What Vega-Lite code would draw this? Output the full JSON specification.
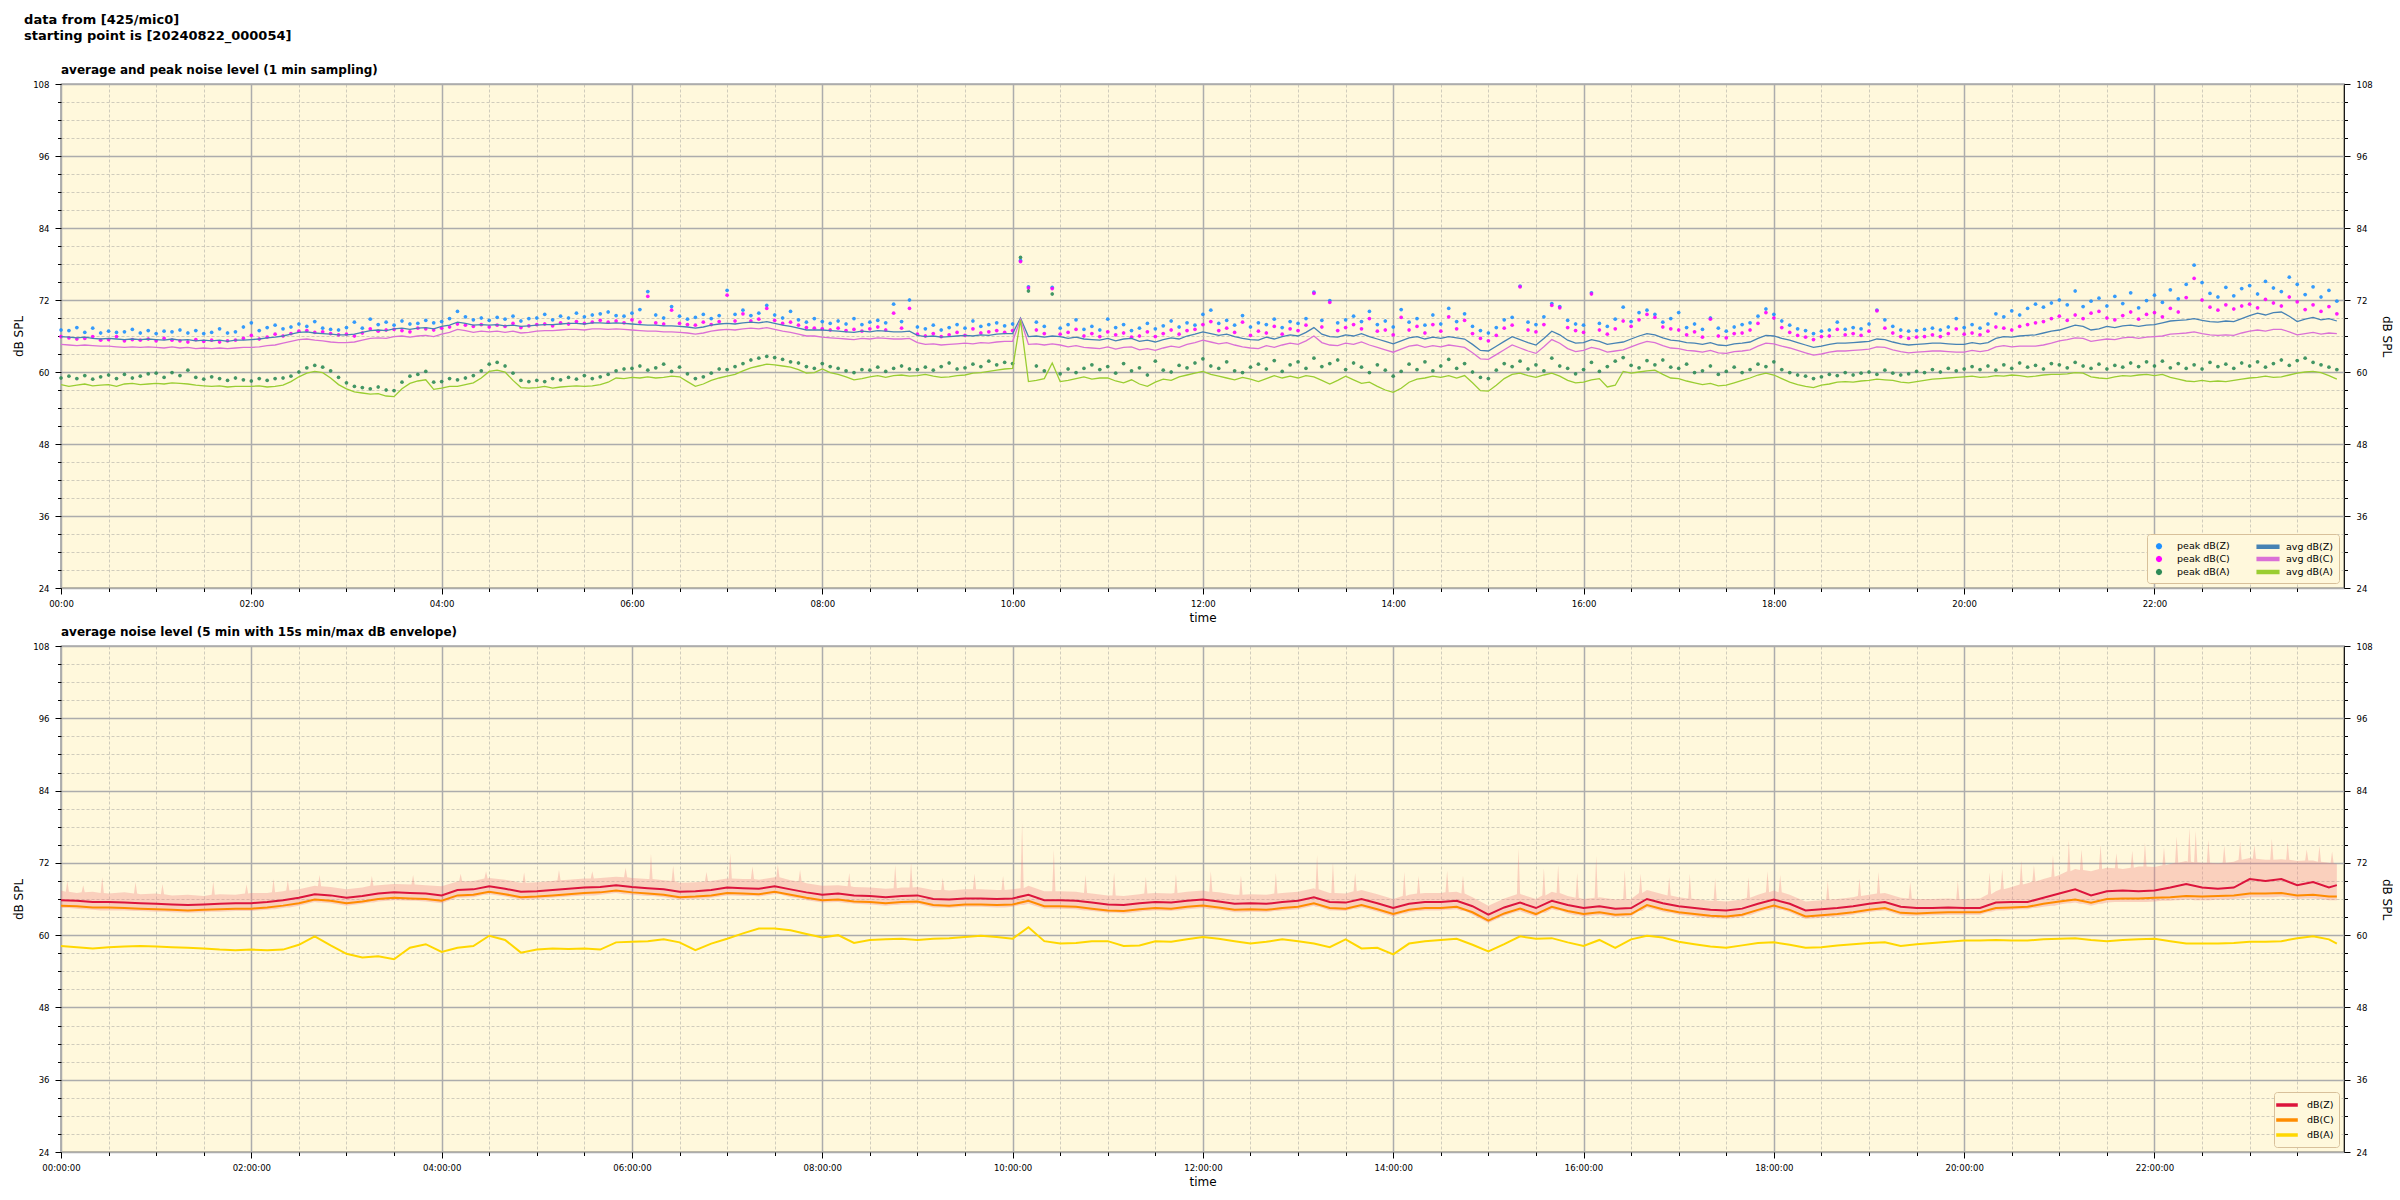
{
"$schema": "https://vega.github.io/schema/vega-lite/v6.json",
"padding": {"left": 12, "top": 14, "right": 0, "bottom": 0},
"background": "white",
"title": {"text": ["data from [425/mic0]", "starting point is [20240822_000054]"], "anchor": "start", "frame": "bounds", "dx": 12, "fontSize": 13, "fontWeight": "bold", "font": "DejaVu Sans", "lineHeight": 16, "offset": 20, "color": "black"},
"config": {
  "view": {"fill": "#fff8dc", "stroke": "#000000", "strokeWidth": 1.2},
  "axis": {"domain": false, "labelFont": "DejaVu Sans Condensed", "labelFontSize": 9.5, "labelColor": "#000000", "titleFont": "DejaVu Sans", "titleFontSize": 12, "titleFontWeight": "normal", "titleColor": "#000000", "tickColor": "#000000", "tickWidth": 1, "labelOverlap": false, "labelFlush": false},
  "title": {"font": "DejaVu Sans", "fontSize": 12, "fontWeight": "bold", "color": "#000000", "anchor": "start", "frame": "group", "offset": 2},
  "legend": {"labelFont": "DejaVu Sans", "labelFontSize": 9.5, "labelColor": "#000000", "fillColor": "#fff8dc", "strokeColor": "#d8c09a", "cornerRadius": 3, "padding": 5, "rowPadding": 0, "orient": "bottom-right", "offset": 5}
},
"resolve": {"scale": {"color": "independent", "shape": "independent"}},
"spacing": 0,
"vconcat": [
{
  "title": {"text": "average and peak noise level (1 min sampling)"},
  "width": 2283, "height": 504,
  "data": {"values": [
{"t":0,"z":65.9,"c":64.6,"a":57.9,"pz":67.0,"pc":65.9,"pa":59.0},
{"t":5,"z":65.8,"c":64.5,"a":57.6,"pz":66.9,"pc":65.7,"pa":59.3},
{"t":10,"z":65.7,"c":64.4,"a":57.8,"pz":67.4,"pc":65.5,"pa":58.9},
{"t":15,"z":65.8,"c":64.5,"a":58.0,"pz":66.6,"pc":65.6,"pa":59.4},
{"t":20,"z":65.6,"c":64.4,"a":57.7,"pz":67.3,"pc":65.9,"pa":58.8},
{"t":25,"z":65.5,"c":64.3,"a":57.8,"pz":66.5,"pc":65.3,"pa":59.2},
{"t":30,"z":65.6,"c":64.3,"a":57.9,"pz":66.8,"pc":65.4,"pa":59.5},
{"t":35,"z":65.5,"c":64.2,"a":57.6,"pz":66.6,"pc":65.9,"pa":58.9},
{"t":40,"z":65.4,"c":64.1,"a":58.0,"pz":66.7,"pc":65.2,"pa":59.6},
{"t":45,"z":65.5,"c":64.2,"a":58.1,"pz":67.1,"pc":65.4,"pa":59.0},
{"t":50,"z":65.4,"c":64.1,"a":57.9,"pz":66.5,"pc":65.3,"pa":59.3},
{"t":55,"z":65.5,"c":64.2,"a":58.0,"pz":66.9,"pc":65.5,"pa":59.7},
{"t":60,"z":65.4,"c":64.1,"a":58.1,"pz":66.4,"pc":65.2,"pa":59.8},
{"t":65,"z":65.3,"c":64.0,"a":58.0,"pz":66.8,"pc":65.6,"pa":59.1},
{"t":70,"z":65.5,"c":64.2,"a":58.2,"pz":66.7,"pc":65.3,"pa":59.9},
{"t":75,"z":65.3,"c":64.0,"a":58.1,"pz":67.0,"pc":65.2,"pa":59.4},
{"t":80,"z":65.4,"c":64.1,"a":58.0,"pz":66.5,"pc":65.0,"pa":60.3},
{"t":85,"z":65.2,"c":63.9,"a":57.8,"pz":66.9,"pc":65.4,"pa":59.1},
{"t":90,"z":65.3,"c":64.0,"a":57.7,"pz":66.4,"pc":65.1,"pa":58.8},
{"t":95,"z":65.2,"c":63.9,"a":57.6,"pz":66.6,"pc":65.3,"pa":59.2},
{"t":100,"z":65.3,"c":64.0,"a":57.7,"pz":67.2,"pc":65.0,"pa":58.9},
{"t":105,"z":65.1,"c":63.9,"a":57.5,"pz":66.5,"pc":65.2,"pa":58.6},
{"t":110,"z":65.3,"c":64.0,"a":57.6,"pz":66.7,"pc":65.3,"pa":59.0},
{"t":115,"z":65.3,"c":64.1,"a":57.6,"pz":67.5,"pc":65.6,"pa":58.7},
{"t":120,"z":65.4,"c":64.1,"a":57.6,"pz":68.2,"pc":66.1,"pa":58.5},
{"t":125,"z":65.5,"c":64.2,"a":57.7,"pz":66.9,"pc":65.5,"pa":58.9},
{"t":130,"z":65.7,"c":64.4,"a":57.5,"pz":67.4,"pc":65.8,"pa":58.6},
{"t":135,"z":65.8,"c":64.5,"a":57.6,"pz":67.8,"pc":66.3,"pa":58.9},
{"t":140,"z":66.0,"c":64.8,"a":57.8,"pz":67.2,"pc":66.0,"pa":59.0},
{"t":145,"z":66.3,"c":65.1,"a":58.4,"pz":67.5,"pc":66.4,"pa":59.3},
{"t":150,"z":66.6,"c":65.4,"a":59.2,"pz":68.0,"pc":66.8,"pa":60.0},
{"t":155,"z":66.7,"c":65.5,"a":59.8,"pz":67.6,"pc":66.9,"pa":60.7},
{"t":160,"z":66.5,"c":65.3,"a":60.1,"pz":68.4,"pc":66.6,"pa":61.1},
{"t":165,"z":66.4,"c":65.2,"a":59.9,"pz":67.3,"pc":66.7,"pa":60.8},
{"t":170,"z":66.3,"c":65.0,"a":59.0,"pz":67.1,"pc":66.4,"pa":60.2},
{"t":175,"z":66.2,"c":64.9,"a":57.9,"pz":67.0,"pc":66.2,"pa":59.1},
{"t":180,"z":66.2,"c":64.9,"a":57.2,"pz":67.4,"pc":66.3,"pa":58.2},
{"t":185,"z":66.3,"c":65.0,"a":56.7,"pz":68.3,"pc":66.0,"pa":57.6},
{"t":190,"z":66.6,"c":65.3,"a":56.5,"pz":67.3,"pc":66.5,"pa":57.4},
{"t":195,"z":66.9,"c":65.6,"a":56.3,"pz":68.8,"pc":67.2,"pa":57.2},
{"t":200,"z":67.0,"c":65.7,"a":56.4,"pz":67.9,"pc":66.8,"pa":57.5},
{"t":205,"z":66.9,"c":65.6,"a":56.0,"pz":68.3,"pc":67.0,"pa":57.0},
{"t":210,"z":67.2,"c":65.9,"a":55.9,"pz":67.8,"pc":67.1,"pa":56.9},
{"t":215,"z":67.3,"c":66.0,"a":57.2,"pz":68.5,"pc":66.9,"pa":58.3},
{"t":220,"z":67.1,"c":65.8,"a":58.1,"pz":68.0,"pc":66.7,"pa":59.3},
{"t":225,"z":67.3,"c":66.0,"a":58.5,"pz":68.1,"pc":67.3,"pa":59.6},
{"t":230,"z":67.4,"c":66.1,"a":58.7,"pz":68.6,"pc":67.2,"pa":60.1},
{"t":235,"z":67.2,"c":65.9,"a":57.1,"pz":68.2,"pc":67.0,"pa":58.3},
{"t":240,"z":67.6,"c":66.3,"a":57.3,"pz":68.4,"pc":67.3,"pa":58.4},
{"t":245,"z":67.8,"c":66.6,"a":57.6,"pz":68.9,"pc":67.5,"pa":58.9},
{"t":250,"z":68.3,"c":67.1,"a":57.6,"pz":70.1,"pc":68.0,"pa":58.7},
{"t":255,"z":68.1,"c":66.9,"a":57.9,"pz":69.2,"pc":67.8,"pa":59.0},
{"t":260,"z":67.8,"c":66.6,"a":58.2,"pz":68.7,"pc":67.6,"pa":59.4},
{"t":265,"z":67.9,"c":66.8,"a":59.0,"pz":69.0,"pc":67.9,"pa":60.2},
{"t":270,"z":67.8,"c":66.7,"a":60.1,"pz":68.6,"pc":67.5,"pa":61.3},
{"t":275,"z":67.9,"c":66.8,"a":60.3,"pz":69.1,"pc":67.8,"pa":61.6},
{"t":280,"z":67.7,"c":66.6,"a":60.0,"pz":68.8,"pc":67.6,"pa":61.0},
{"t":285,"z":67.8,"c":66.8,"a":58.6,"pz":69.3,"pc":68.1,"pa":59.8},
{"t":290,"z":67.6,"c":66.5,"a":57.4,"pz":68.5,"pc":67.4,"pa":58.6},
{"t":295,"z":67.7,"c":66.6,"a":57.3,"pz":68.9,"pc":67.7,"pa":58.4},
{"t":300,"z":67.8,"c":66.8,"a":57.4,"pz":69.0,"pc":67.9,"pa":58.6},
{"t":305,"z":67.9,"c":66.9,"a":57.6,"pz":69.6,"pc":68.0,"pa":58.4},
{"t":310,"z":67.9,"c":66.9,"a":57.3,"pz":68.7,"pc":67.7,"pa":58.9},
{"t":315,"z":68.0,"c":67.0,"a":57.5,"pz":69.3,"pc":68.2,"pa":58.7},
{"t":320,"z":68.1,"c":67.1,"a":57.6,"pz":69.0,"pc":68.0,"pa":59.1},
{"t":325,"z":68.1,"c":67.1,"a":57.7,"pz":69.8,"pc":68.4,"pa":58.8},
{"t":330,"z":68.0,"c":67.0,"a":57.6,"pz":69.2,"pc":68.1,"pa":59.4},
{"t":335,"z":68.2,"c":67.2,"a":57.7,"pz":69.5,"pc":68.3,"pa":58.9},
{"t":340,"z":68.2,"c":67.2,"a":57.9,"pz":69.7,"pc":68.6,"pa":59.2},
{"t":345,"z":68.1,"c":67.1,"a":58.3,"pz":70.0,"pc":68.3,"pa":59.6},
{"t":350,"z":68.2,"c":67.2,"a":59.0,"pz":69.4,"pc":68.5,"pa":60.2},
{"t":355,"z":68.1,"c":67.1,"a":58.9,"pz":69.3,"pc":68.2,"pa":60.5},
{"t":360,"z":68.0,"c":67.0,"a":59.1,"pz":69.8,"pc":68.7,"pa":60.6},
{"t":365,"z":67.9,"c":66.9,"a":59.0,"pz":70.4,"pc":68.3,"pa":61.0},
{"t":370,"z":67.8,"c":66.8,"a":59.2,"pz":73.4,"pc":72.6,"pa":60.3},
{"t":375,"z":67.8,"c":66.8,"a":59.0,"pz":69.5,"pc":68.2,"pa":60.7},
{"t":380,"z":67.7,"c":66.7,"a":59.1,"pz":69.0,"pc":68.0,"pa":61.3},
{"t":385,"z":67.7,"c":66.7,"a":59.3,"pz":70.9,"pc":70.3,"pa":60.1},
{"t":390,"z":67.6,"c":66.6,"a":59.2,"pz":69.3,"pc":68.1,"pa":60.8},
{"t":395,"z":67.5,"c":66.5,"a":58.4,"pz":68.8,"pc":67.9,"pa":59.7},
{"t":400,"z":67.3,"c":66.3,"a":57.6,"pz":69.1,"pc":67.8,"pa":58.9},
{"t":405,"z":67.5,"c":66.5,"a":58.0,"pz":69.6,"pc":68.3,"pa":59.2},
{"t":410,"z":67.8,"c":66.8,"a":58.6,"pz":68.9,"pc":67.9,"pa":59.8},
{"t":415,"z":68.0,"c":67.0,"a":59.0,"pz":69.4,"pc":68.4,"pa":60.5},
{"t":420,"z":68.1,"c":67.1,"a":59.3,"pz":73.6,"pc":72.8,"pa":60.4},
{"t":425,"z":68.0,"c":67.0,"a":59.6,"pz":69.6,"pc":68.5,"pa":60.9},
{"t":430,"z":68.2,"c":67.2,"a":60.2,"pz":70.3,"pc":69.7,"pa":61.4},
{"t":435,"z":68.3,"c":67.3,"a":60.7,"pz":69.4,"pc":68.5,"pa":62.0},
{"t":440,"z":68.2,"c":67.2,"a":61.0,"pz":69.8,"pc":68.8,"pa":62.3},
{"t":445,"z":68.4,"c":67.4,"a":61.3,"pz":71.1,"pc":70.6,"pa":62.6},
{"t":450,"z":68.1,"c":67.1,"a":61.2,"pz":69.5,"pc":68.6,"pa":62.4},
{"t":455,"z":67.8,"c":66.8,"a":61.0,"pz":69.0,"pc":68.1,"pa":62.1},
{"t":460,"z":67.6,"c":66.6,"a":60.8,"pz":70.1,"pc":68.3,"pa":61.7},
{"t":465,"z":67.3,"c":66.3,"a":60.4,"pz":68.7,"pc":67.8,"pa":61.5},
{"t":470,"z":67.0,"c":66.0,"a":59.8,"pz":68.3,"pc":67.4,"pa":60.9},
{"t":475,"z":67.0,"c":66.0,"a":59.9,"pz":68.9,"pc":67.3,"pa":60.6},
{"t":480,"z":67.0,"c":65.8,"a":60.5,"pz":68.4,"pc":67.2,"pa":61.4},
{"t":485,"z":66.9,"c":65.7,"a":59.9,"pz":68.1,"pc":67.0,"pa":60.9},
{"t":490,"z":66.8,"c":65.6,"a":59.6,"pz":68.5,"pc":67.3,"pa":60.6},
{"t":495,"z":66.7,"c":65.5,"a":59.2,"pz":68.0,"pc":66.9,"pa":60.2},
{"t":500,"z":66.6,"c":65.4,"a":58.7,"pz":68.9,"pc":67.1,"pa":59.9},
{"t":505,"z":66.8,"c":65.6,"a":58.9,"pz":67.9,"pc":66.8,"pa":60.4},
{"t":510,"z":66.7,"c":65.5,"a":59.2,"pz":68.3,"pc":67.2,"pa":60.3},
{"t":515,"z":66.9,"c":65.7,"a":59.4,"pz":68.6,"pc":67.5,"pa":60.8},
{"t":520,"z":66.8,"c":65.6,"a":59.1,"pz":68.2,"pc":67.0,"pa":60.1},
{"t":525,"z":66.7,"c":65.5,"a":59.4,"pz":71.3,"pc":69.8,"pa":60.6},
{"t":530,"z":66.7,"c":65.5,"a":59.5,"pz":68.4,"pc":67.3,"pa":61.0},
{"t":535,"z":66.8,"c":65.6,"a":59.3,"pz":72.0,"pc":70.6,"pa":60.5},
{"t":540,"z":66.1,"c":64.9,"a":59.4,"pz":67.5,"pc":66.3,"pa":60.4},
{"t":545,"z":65.9,"c":64.6,"a":59.6,"pz":67.2,"pc":66.0,"pa":60.8},
{"t":550,"z":66.0,"c":64.7,"a":59.3,"pz":67.8,"pc":66.4,"pa":60.3},
{"t":555,"z":65.8,"c":64.5,"a":59.1,"pz":67.0,"pc":65.9,"pa":60.9},
{"t":560,"z":65.9,"c":64.6,"a":59.2,"pz":67.4,"pc":66.2,"pa":61.5},
{"t":565,"z":66.0,"c":64.7,"a":59.4,"pz":67.9,"pc":66.6,"pa":60.5},
{"t":570,"z":66.1,"c":64.8,"a":59.5,"pz":67.3,"pc":66.1,"pa":60.7},
{"t":575,"z":66.0,"c":64.7,"a":59.8,"pz":68.5,"pc":67.2,"pa":61.3},
{"t":580,"z":66.2,"c":64.9,"a":59.9,"pz":67.6,"pc":66.5,"pa":60.9},
{"t":585,"z":66.1,"c":64.8,"a":60.1,"pz":67.9,"pc":66.7,"pa":61.8},
{"t":590,"z":66.3,"c":65.0,"a":60.3,"pz":68.2,"pc":66.9,"pa":61.2},
{"t":595,"z":66.4,"c":65.1,"a":60.5,"pz":67.7,"pc":66.6,"pa":61.6},
{"t":600,"z":66.4,"c":65.1,"a":60.6,"pz":68.0,"pc":66.9,"pa":61.4},
{"t":605,"z":69.0,"c":68.8,"a":68.7,"pz":78.6,"pc":78.4,"pa":79.1},
{"t":610,"z":65.9,"c":64.6,"a":58.4,"pz":74.2,"pc":74.0,"pa":73.5},
{"t":615,"z":66.0,"c":64.7,"a":58.6,"pz":68.3,"pc":67.0,"pa":61.0},
{"t":620,"z":65.8,"c":64.5,"a":58.9,"pz":67.6,"pc":66.4,"pa":60.2},
{"t":625,"z":66.0,"c":64.7,"a":61.5,"pz":74.1,"pc":73.9,"pa":73.0},
{"t":630,"z":65.9,"c":64.5,"a":58.4,"pz":67.3,"pc":66.3,"pa":59.7},
{"t":635,"z":65.6,"c":64.2,"a":58.6,"pz":67.9,"pc":66.6,"pa":60.5},
{"t":640,"z":65.8,"c":64.4,"a":58.9,"pz":68.7,"pc":67.1,"pa":59.9},
{"t":645,"z":65.5,"c":64.1,"a":59.2,"pz":67.1,"pc":66.0,"pa":60.6},
{"t":650,"z":65.4,"c":64.0,"a":58.8,"pz":67.6,"pc":66.4,"pa":61.2},
{"t":655,"z":65.3,"c":63.9,"a":59.0,"pz":67.0,"pc":65.9,"pa":60.4},
{"t":660,"z":65.6,"c":64.2,"a":59.0,"pz":68.8,"pc":66.7,"pa":60.9},
{"t":665,"z":65.2,"c":63.8,"a":58.5,"pz":67.4,"pc":66.2,"pa":59.8},
{"t":670,"z":65.5,"c":64.1,"a":58.2,"pz":67.9,"pc":66.5,"pa":61.4},
{"t":675,"z":65.6,"c":64.2,"a":58.7,"pz":66.9,"pc":65.8,"pa":60.2},
{"t":680,"z":65.1,"c":63.7,"a":58.0,"pz":67.3,"pc":66.0,"pa":60.7},
{"t":685,"z":65.3,"c":63.9,"a":57.6,"pz":68.1,"pc":66.7,"pa":59.5},
{"t":690,"z":65.0,"c":63.6,"a":58.3,"pz":67.2,"pc":65.9,"pa":61.8},
{"t":695,"z":65.4,"c":64.0,"a":58.8,"pz":67.7,"pc":66.4,"pa":60.3},
{"t":700,"z":65.7,"c":64.3,"a":58.6,"pz":68.5,"pc":67.0,"pa":60.0},
{"t":705,"z":65.5,"c":64.1,"a":59.2,"pz":67.5,"pc":66.3,"pa":61.1},
{"t":710,"z":66.0,"c":64.6,"a":59.5,"pz":68.2,"pc":66.9,"pa":60.7},
{"t":715,"z":66.3,"c":64.9,"a":59.8,"pz":67.8,"pc":67.1,"pa":61.5},
{"t":720,"z":66.7,"c":65.3,"a":60.1,"pz":69.6,"pc":67.9,"pa":62.2},
{"t":725,"z":66.4,"c":65.0,"a":59.6,"pz":70.3,"pc":68.4,"pa":61.0},
{"t":730,"z":66.1,"c":64.7,"a":59.3,"pz":68.1,"pc":66.9,"pa":60.6},
{"t":735,"z":66.3,"c":64.9,"a":59.0,"pz":68.6,"pc":67.3,"pa":61.7},
{"t":740,"z":65.9,"c":64.5,"a":58.7,"pz":67.8,"pc":66.6,"pa":60.2},
{"t":745,"z":65.6,"c":64.2,"a":59.1,"pz":69.4,"pc":68.3,"pa":59.9},
{"t":750,"z":65.4,"c":64.0,"a":58.8,"pz":67.5,"pc":66.1,"pa":60.8},
{"t":755,"z":65.3,"c":63.9,"a":58.4,"pz":68.2,"pc":66.8,"pa":61.3},
{"t":760,"z":65.8,"c":64.4,"a":58.9,"pz":67.9,"pc":66.5,"pa":60.5},
{"t":765,"z":65.5,"c":64.1,"a":59.4,"pz":68.8,"pc":67.6,"pa":61.9},
{"t":770,"z":65.9,"c":64.5,"a":59.0,"pz":67.4,"pc":66.3,"pa":60.1},
{"t":775,"z":66.2,"c":64.8,"a":59.3,"pz":68.4,"pc":67.2,"pa":61.2},
{"t":780,"z":66.0,"c":64.6,"a":59.0,"pz":68.1,"pc":66.9,"pa":61.7},
{"t":785,"z":66.6,"c":65.2,"a":59.4,"pz":68.9,"pc":67.8,"pa":60.6},
{"t":790,"z":67.4,"c":66.0,"a":59.2,"pz":73.3,"pc":73.1,"pa":62.3},
{"t":795,"z":66.3,"c":64.9,"a":58.6,"pz":68.6,"pc":67.5,"pa":60.9},
{"t":800,"z":65.9,"c":64.5,"a":58.0,"pz":71.9,"pc":71.6,"pa":61.4},
{"t":805,"z":65.8,"c":64.4,"a":58.6,"pz":68.2,"pc":66.9,"pa":62.0},
{"t":810,"z":66.2,"c":64.8,"a":59.3,"pz":68.7,"pc":67.4,"pa":60.4},
{"t":815,"z":66.0,"c":64.6,"a":58.7,"pz":69.3,"pc":67.9,"pa":61.5},
{"t":820,"z":66.4,"c":65.0,"a":58.1,"pz":68.4,"pc":67.2,"pa":60.8},
{"t":825,"z":65.9,"c":64.5,"a":58.3,"pz":70.1,"pc":68.9,"pa":59.9},
{"t":830,"z":65.5,"c":64.1,"a":57.6,"pz":67.9,"pc":66.8,"pa":61.2},
{"t":835,"z":65.1,"c":63.7,"a":57.0,"pz":68.5,"pc":67.0,"pa":60.3},
{"t":840,"z":64.7,"c":63.3,"a":56.6,"pz":67.5,"pc":66.2,"pa":59.3},
{"t":845,"z":65.2,"c":63.8,"a":57.3,"pz":70.4,"pc":69.1,"pa":60.1},
{"t":850,"z":65.7,"c":64.3,"a":58.3,"pz":68.3,"pc":67.0,"pa":61.3},
{"t":855,"z":65.9,"c":64.5,"a":58.8,"pz":68.9,"pc":67.6,"pa":60.4},
{"t":860,"z":65.5,"c":64.1,"a":59.0,"pz":67.8,"pc":66.5,"pa":61.7},
{"t":865,"z":65.8,"c":64.4,"a":59.3,"pz":69.5,"pc":67.9,"pa":60.2},
{"t":870,"z":65.6,"c":64.2,"a":59.1,"pz":68.0,"pc":66.8,"pa":61.0},
{"t":875,"z":65.9,"c":64.5,"a":59.4,"pz":70.6,"pc":69.2,"pa":62.1},
{"t":880,"z":65.7,"c":64.3,"a":59.0,"pz":68.4,"pc":67.2,"pa":60.6},
{"t":885,"z":65.5,"c":64.1,"a":59.4,"pz":69.7,"pc":68.6,"pa":61.4},
{"t":890,"z":64.6,"c":63.2,"a":58.2,"pz":67.6,"pc":66.4,"pa":60.0},
{"t":895,"z":63.6,"c":62.2,"a":56.9,"pz":66.9,"pc":65.6,"pa":59.1},
{"t":900,"z":63.5,"c":62.1,"a":56.8,"pz":66.5,"pc":65.2,"pa":58.9},
{"t":905,"z":64.3,"c":62.9,"a":57.8,"pz":67.4,"pc":66.1,"pa":60.3},
{"t":910,"z":65.1,"c":63.7,"a":58.9,"pz":68.7,"pc":67.3,"pa":61.4},
{"t":915,"z":65.9,"c":64.5,"a":59.6,"pz":69.1,"pc":67.8,"pa":60.9},
{"t":920,"z":65.4,"c":64.0,"a":59.8,"pz":74.3,"pc":74.2,"pa":61.8},
{"t":925,"z":64.9,"c":63.5,"a":59.4,"pz":68.3,"pc":67.0,"pa":60.5},
{"t":930,"z":64.5,"c":63.1,"a":59.1,"pz":67.9,"pc":66.7,"pa":61.2},
{"t":935,"z":65.6,"c":64.2,"a":59.5,"pz":69.2,"pc":67.9,"pa":60.2},
{"t":940,"z":66.8,"c":65.4,"a":59.8,"pz":71.4,"pc":71.1,"pa":62.3},
{"t":945,"z":66.2,"c":64.8,"a":59.3,"pz":70.9,"pc":70.7,"pa":61.0},
{"t":950,"z":65.3,"c":63.9,"a":58.6,"pz":68.6,"pc":67.4,"pa":60.6},
{"t":955,"z":64.8,"c":63.4,"a":58.2,"pz":68.0,"pc":66.9,"pa":59.7},
{"t":960,"z":64.9,"c":63.6,"a":58.3,"pz":67.8,"pc":66.6,"pa":60.4},
{"t":965,"z":65.4,"c":64.1,"a":58.7,"pz":73.2,"pc":73.0,"pa":61.6},
{"t":970,"z":65.1,"c":63.8,"a":58.9,"pz":68.1,"pc":67.0,"pa":60.1},
{"t":975,"z":64.6,"c":63.3,"a":57.5,"pz":67.6,"pc":66.3,"pa":60.9},
{"t":980,"z":64.8,"c":63.5,"a":57.8,"pz":68.8,"pc":67.2,"pa":61.8},
{"t":985,"z":65.0,"c":63.7,"a":60.1,"pz":70.8,"pc":68.5,"pa":62.4},
{"t":990,"z":65.5,"c":64.2,"a":59.8,"pz":68.4,"pc":67.6,"pa":61.1},
{"t":995,"z":66.0,"c":64.7,"a":60.0,"pz":69.9,"pc":68.7,"pa":60.7},
{"t":1000,"z":66.4,"c":65.1,"a":60.2,"pz":70.3,"pc":69.6,"pa":61.9},
{"t":1005,"z":66.2,"c":64.9,"a":60.3,"pz":69.6,"pc":69.1,"pa":61.2},
{"t":1010,"z":65.7,"c":64.4,"a":59.6,"pz":68.3,"pc":67.5,"pa":62.0},
{"t":1015,"z":65.3,"c":64.0,"a":59.0,"pz":68.9,"pc":67.2,"pa":60.8},
{"t":1020,"z":65.2,"c":63.9,"a":58.9,"pz":69.9,"pc":67.0,"pa":60.6},
{"t":1025,"z":64.9,"c":63.6,"a":58.5,"pz":67.4,"pc":66.2,"pa":61.3},
{"t":1030,"z":64.8,"c":63.5,"a":58.2,"pz":68.0,"pc":66.7,"pa":59.9},
{"t":1035,"z":64.6,"c":63.3,"a":57.9,"pz":67.1,"pc":65.8,"pa":60.2},
{"t":1040,"z":64.9,"c":63.6,"a":58.1,"pz":69.0,"pc":68.8,"pa":61.0},
{"t":1045,"z":64.5,"c":63.2,"a":57.7,"pz":67.3,"pc":66.0,"pa":59.6},
{"t":1050,"z":64.4,"c":63.1,"a":57.8,"pz":66.8,"pc":65.7,"pa":60.1},
{"t":1055,"z":64.7,"c":63.4,"a":58.2,"pz":67.5,"pc":66.4,"pa":60.8},
{"t":1060,"z":64.8,"c":63.5,"a":58.6,"pz":67.9,"pc":66.5,"pa":59.9},
{"t":1065,"z":65.0,"c":63.7,"a":59.0,"pz":68.2,"pc":67.0,"pa":60.4},
{"t":1070,"z":65.6,"c":64.3,"a":59.5,"pz":69.3,"pc":68.1,"pa":61.3},
{"t":1075,"z":66.1,"c":64.8,"a":59.8,"pz":70.5,"pc":69.9,"pa":60.9},
{"t":1080,"z":66.0,"c":64.7,"a":59.5,"pz":69.6,"pc":69.0,"pa":61.7},
{"t":1085,"z":65.6,"c":64.3,"a":58.9,"pz":68.5,"pc":67.4,"pa":60.4},
{"t":1090,"z":65.3,"c":64.0,"a":58.3,"pz":67.8,"pc":66.6,"pa":59.9},
{"t":1095,"z":64.9,"c":63.6,"a":57.9,"pz":67.2,"pc":66.1,"pa":59.5},
{"t":1100,"z":64.5,"c":63.2,"a":57.6,"pz":66.9,"pc":65.8,"pa":59.3},
{"t":1105,"z":64.1,"c":62.8,"a":57.4,"pz":66.4,"pc":65.4,"pa":58.9},
{"t":1110,"z":64.3,"c":63.0,"a":57.8,"pz":66.8,"pc":65.9,"pa":59.2},
{"t":1115,"z":64.6,"c":63.3,"a":58.0,"pz":67.0,"pc":66.0,"pa":59.6},
{"t":1120,"z":64.8,"c":63.5,"a":58.3,"pz":68.3,"pc":67.1,"pa":59.4},
{"t":1125,"z":64.8,"c":63.5,"a":58.4,"pz":67.1,"pc":66.2,"pa":59.9},
{"t":1130,"z":64.9,"c":63.6,"a":58.3,"pz":67.4,"pc":66.4,"pa":59.5},
{"t":1135,"z":65.0,"c":63.7,"a":58.5,"pz":67.2,"pc":66.1,"pa":59.8},
{"t":1140,"z":65.1,"c":63.8,"a":58.6,"pz":68.0,"pc":66.8,"pa":60.0},
{"t":1145,"z":65.5,"c":64.2,"a":58.8,"pz":70.3,"pc":70.2,"pa":59.6},
{"t":1150,"z":65.4,"c":64.1,"a":58.7,"pz":68.7,"pc":67.3,"pa":60.3},
{"t":1155,"z":65.0,"c":63.7,"a":58.6,"pz":67.6,"pc":66.5,"pa":59.8},
{"t":1160,"z":64.7,"c":63.4,"a":58.3,"pz":67.0,"pc":65.9,"pa":59.5},
{"t":1165,"z":64.5,"c":63.2,"a":58.2,"pz":66.8,"pc":65.6,"pa":59.7},
{"t":1170,"z":64.6,"c":63.3,"a":58.4,"pz":66.9,"pc":65.8,"pa":60.1},
{"t":1175,"z":64.7,"c":63.4,"a":58.6,"pz":67.1,"pc":65.9,"pa":59.9},
{"t":1180,"z":64.8,"c":63.5,"a":58.8,"pz":67.3,"pc":66.2,"pa":60.4},
{"t":1185,"z":64.8,"c":63.5,"a":58.9,"pz":67.0,"pc":65.9,"pa":60.0},
{"t":1190,"z":64.7,"c":63.4,"a":59.0,"pz":67.5,"pc":66.4,"pa":60.6},
{"t":1195,"z":64.6,"c":63.3,"a":59.1,"pz":68.9,"pc":67.2,"pa":60.2},
{"t":1200,"z":64.6,"c":63.3,"a":59.2,"pz":67.4,"pc":66.3,"pa":60.5},
{"t":1205,"z":64.9,"c":63.6,"a":59.3,"pz":67.9,"pc":66.5,"pa":60.9},
{"t":1210,"z":64.7,"c":63.4,"a":59.1,"pz":67.3,"pc":66.2,"pa":60.4},
{"t":1215,"z":64.9,"c":63.6,"a":59.2,"pz":68.0,"pc":66.8,"pa":61.0},
{"t":1220,"z":65.6,"c":64.2,"a":59.4,"pz":69.7,"pc":67.5,"pa":60.3},
{"t":1225,"z":65.9,"c":64.4,"a":59.3,"pz":69.2,"pc":67.3,"pa":61.2},
{"t":1230,"z":65.8,"c":64.2,"a":59.5,"pz":70.2,"pc":67.0,"pa":60.6},
{"t":1235,"z":66.0,"c":64.3,"a":59.4,"pz":69.5,"pc":67.6,"pa":61.5},
{"t":1240,"z":66.1,"c":64.3,"a":59.2,"pz":70.6,"pc":67.9,"pa":60.8},
{"t":1245,"z":66.2,"c":64.3,"a":59.3,"pz":71.3,"pc":68.2,"pa":61.1},
{"t":1250,"z":66.5,"c":64.5,"a":59.5,"pz":70.8,"pc":68.4,"pa":60.5},
{"t":1255,"z":66.8,"c":64.8,"a":59.6,"pz":71.5,"pc":68.9,"pa":61.4},
{"t":1260,"z":67.0,"c":65.2,"a":59.6,"pz":72.0,"pc":69.3,"pa":61.2},
{"t":1265,"z":67.4,"c":65.4,"a":59.7,"pz":71.2,"pc":68.6,"pa":60.7},
{"t":1270,"z":67.8,"c":65.7,"a":59.9,"pz":73.5,"pc":69.5,"pa":61.6},
{"t":1275,"z":67.6,"c":65.6,"a":59.8,"pz":70.9,"pc":68.9,"pa":61.0},
{"t":1280,"z":67.0,"c":65.1,"a":59.2,"pz":71.8,"pc":69.8,"pa":60.6},
{"t":1285,"z":67.2,"c":65.3,"a":59.0,"pz":72.3,"pc":70.1,"pa":61.3},
{"t":1290,"z":67.6,"c":65.5,"a":58.9,"pz":71.0,"pc":69.0,"pa":60.5},
{"t":1295,"z":67.4,"c":65.4,"a":59.2,"pz":72.6,"pc":68.7,"pa":61.1},
{"t":1300,"z":67.7,"c":65.7,"a":59.4,"pz":71.4,"pc":69.4,"pa":60.8},
{"t":1305,"z":67.8,"c":65.8,"a":59.3,"pz":73.2,"pc":70.0,"pa":61.5},
{"t":1310,"z":67.6,"c":65.6,"a":59.5,"pz":70.7,"pc":68.8,"pa":60.9},
{"t":1315,"z":67.8,"c":65.8,"a":59.6,"pz":71.9,"pc":69.6,"pa":61.7},
{"t":1320,"z":67.9,"c":65.9,"a":59.4,"pz":72.8,"pc":69.9,"pa":61.0},
{"t":1325,"z":68.2,"c":66.0,"a":59.6,"pz":71.6,"pc":69.2,"pa":61.8},
{"t":1330,"z":68.5,"c":66.3,"a":59.1,"pz":73.7,"pc":70.6,"pa":60.7},
{"t":1335,"z":68.6,"c":66.4,"a":58.8,"pz":72.2,"pc":70.0,"pa":61.4},
{"t":1340,"z":68.7,"c":66.5,"a":58.5,"pz":74.6,"pc":72.4,"pa":60.6},
{"t":1345,"z":68.9,"c":66.7,"a":58.4,"pz":77.8,"pc":75.6,"pa":61.2},
{"t":1350,"z":68.6,"c":66.4,"a":58.6,"pz":74.9,"pc":72.0,"pa":60.5},
{"t":1355,"z":68.4,"c":66.2,"a":58.4,"pz":73.1,"pc":70.8,"pa":61.6},
{"t":1360,"z":68.3,"c":66.1,"a":58.5,"pz":72.5,"pc":70.3,"pa":60.9},
{"t":1365,"z":68.5,"c":66.2,"a":58.4,"pz":74.1,"pc":71.2,"pa":61.3},
{"t":1370,"z":68.4,"c":66.1,"a":58.6,"pz":72.7,"pc":70.5,"pa":60.6},
{"t":1375,"z":68.9,"c":66.5,"a":58.8,"pz":73.9,"pc":71.0,"pa":61.5},
{"t":1380,"z":69.4,"c":66.8,"a":59.0,"pz":74.4,"pc":71.3,"pa":61.0},
{"t":1385,"z":69.8,"c":67.0,"a":59.1,"pz":73.0,"pc":70.7,"pa":61.7},
{"t":1390,"z":69.5,"c":66.8,"a":59.3,"pz":75.1,"pc":72.1,"pa":60.8},
{"t":1395,"z":69.9,"c":67.1,"a":59.1,"pz":74.0,"pc":71.5,"pa":61.4},
{"t":1400,"z":70.0,"c":67.1,"a":59.2,"pz":73.4,"pc":71.0,"pa":62.0},
{"t":1405,"z":69.3,"c":66.7,"a":59.5,"pz":75.8,"pc":72.5,"pa":61.1},
{"t":1410,"z":68.4,"c":66.2,"a":59.8,"pz":74.6,"pc":71.7,"pa":61.9},
{"t":1415,"z":68.8,"c":66.4,"a":60.0,"pz":72.9,"pc":70.4,"pa":62.3},
{"t":1420,"z":69.1,"c":66.6,"a":60.1,"pz":74.2,"pc":71.2,"pa":61.6},
{"t":1425,"z":68.7,"c":66.3,"a":59.9,"pz":72.5,"pc":70.1,"pa":61.2},
{"t":1430,"z":68.9,"c":66.5,"a":59.4,"pz":73.6,"pc":70.9,"pa":60.8},
{"t":1435,"z":68.5,"c":66.4,"a":58.8,"pz":71.8,"pc":69.7,"pa":60.4}
  ]},
  "layer": [
    {
      "transform": [{"fold": ["pz", "pc", "pa"], "as": ["s", "v"]}],
      "mark": {"type": "point", "filled": true, "size": 90, "opacity": 0.9},
      "encoding": {
        "x": {"field": "t", "type": "quantitative", "scale": {"domain": [0, 1439.5], "nice": false, "zero": false},
          "axis": {"title": "time", "values": [0,30,60,90,120,150,180,210,240,270,300,330,360,390,420,450,480,510,540,570,600,630,660,690,720,750,780,810,840,870,900,930,960,990,1020,1050,1080,1110,1140,1170,1200,1230,1260,1290,1320,1350,1380,1410],
            "labelExpr": "datum.value % 120 === 0 ? ((floor(datum.value/60) < 10 ? '0' : '') + floor(datum.value/60) + ':00') : ''",
            "tickSize": {"condition": {"test": "datum.value % 120 !== 0", "value": 3.5}, "value": 6},
            "labelPadding": 4, "titlePadding": 5, "grid": true,
            "gridColor": {"condition": {"test": "datum.value % 120 !== 0", "value": "#c4c0b4"}, "value": "#acacac"},
            "gridWidth": {"condition": {"test": "datum.value % 120 !== 0", "value": 0.8}, "value": 1.5},
            "gridDash": {"condition": {"test": "datum.value % 120 !== 0", "value": [3, 2]}, "value": []}}},
        "y": {"field": "v", "type": "quantitative", "scale": {"domain": [24, 108], "nice": false, "zero": false},
          "axis": {"orient": "left", "title": "dB SPL", "values": [24,27,30,33,36,39,42,45,48,51,54,57,60,63,66,69,72,75,78,81,84,87,90,93,96,99,102,105,108],
            "labelExpr": "datum.value % 12 === 0 ? datum.label : ''",
            "tickSize": {"condition": {"test": "datum.value % 12 !== 0", "value": 3.5}, "value": 6},
            "labelPadding": 6, "titlePadding": 7, "grid": true,
            "gridColor": {"condition": {"test": "datum.value % 12 !== 0", "value": "#c4c0b4"}, "value": "#acacac"},
            "gridWidth": {"condition": {"test": "datum.value % 12 !== 0", "value": 0.8}, "value": 1.5},
            "gridDash": {"condition": {"test": "datum.value % 12 !== 0", "value": [3, 2]}, "value": []}}},
        "color": {"field": "s", "type": "nominal",
          "scale": {"domain": ["pz", "pc", "pa", "z", "c", "a"], "range": ["#1e90ff", "#ff00ff", "#2e8b57", "#4682b4", "#da70d6", "#9acd32"]},
          "legend": {"title": null, "columns": 2, "columnPadding": 24, "symbolSize": 144, "labelOffset": 11, "padding": 5, "symbolOpacity": 1,
            "labelExpr": "datum.value === 'pz' ? 'peak dB(Z)' : datum.value === 'z' ? 'avg dB(Z)' : datum.value === 'pc' ? 'peak dB(C)' : datum.value === 'c' ? 'avg dB(C)' : datum.value === 'pa' ? 'peak dB(A)' : 'avg dB(A)'"}},
        "shape": {"field": "s", "type": "nominal",
          "scale": {"domain": ["pz", "pc", "pa", "z", "c", "a"], "range": [
            "M0.4,0L0.283,0.283L0,0.4L-0.283,0.283L-0.4,0L-0.283,-0.283L0,-0.4L0.283,-0.283Z",
            "M0.4,0L0.283,0.283L0,0.4L-0.283,0.283L-0.4,0L-0.283,-0.283L0,-0.4L0.283,-0.283Z",
            "M0.4,0L0.283,0.283L0,0.4L-0.283,0.283L-0.4,0L-0.283,-0.283L0,-0.4L0.283,-0.283Z",
            "M-1.8,-0.25H1.8V0.25H-1.8Z", "M-1.8,-0.25H1.8V0.25H-1.8Z", "M-1.8,-0.25H1.8V0.25H-1.8Z"]},
          "legend": {"title": null, "columns": 2, "columnPadding": 24, "symbolSize": 144, "labelOffset": 11, "padding": 5, "symbolOpacity": 1,
            "labelExpr": "datum.value === 'pz' ? 'peak dB(Z)' : datum.value === 'z' ? 'avg dB(Z)' : datum.value === 'pc' ? 'peak dB(C)' : datum.value === 'c' ? 'avg dB(C)' : datum.value === 'pa' ? 'peak dB(A)' : 'avg dB(A)'"}}
      }
    },
    {
      "transform": [{"fold": ["z", "c", "a"], "as": ["s", "v"]}],
      "mark": {"type": "line", "strokeWidth": 1.3},
      "encoding": {
        "x": {"field": "t", "type": "quantitative", "scale": {"domain": [0, 1439.5], "nice": false, "zero": false}, "axis": {"title": "time"}},
        "y": {"field": "v", "type": "quantitative", "scale": {"domain": [24, 108], "nice": false, "zero": false},
          "axis": {"orient": "right", "title": "dB SPL", "values": [24,27,30,33,36,39,42,45,48,51,54,57,60,63,66,69,72,75,78,81,84,87,90,93,96,99,102,105,108],
            "labelExpr": "datum.value % 12 === 0 ? datum.label : ''",
            "tickSize": {"condition": {"test": "datum.value % 12 !== 0", "value": 3.5}, "value": 6},
            "labelPadding": 6, "titlePadding": 7, "grid": false}},
        "color": {"field": "s", "type": "nominal",
          "scale": {"domain": ["pz", "pc", "pa", "z", "c", "a"], "range": ["#1e90ff", "#ff00ff", "#2e8b57", "#4682b4", "#da70d6", "#9acd32"]},
          "legend": null}
      }
    }
  ],
  "resolve": {"axis": {"y": "independent"}}
},
{
  "title": {"text": "average noise level (5 min with 15s min/max dB envelope)"},
  "width": 2283, "height": 506,
  "data": {"values": [
{"t":0,"z":65.8,"c":64.9,"a":58.2},{"t":10,"z":65.7,"c":64.8,"a":58.0},{"t":20,"z":65.5,"c":64.6,"a":57.8},{"t":30,"z":65.5,"c":64.6,"a":58.0},
{"t":40,"z":65.4,"c":64.5,"a":58.1},{"t":50,"z":65.3,"c":64.4,"a":58.2},{"t":60,"z":65.2,"c":64.3,"a":58.1},{"t":70,"z":65.1,"c":64.2,"a":58.0},
{"t":80,"z":65.0,"c":64.1,"a":57.9},{"t":90,"z":65.1,"c":64.2,"a":57.8},{"t":100,"z":65.2,"c":64.3,"a":57.6},{"t":110,"z":65.3,"c":64.4,"a":57.5},
{"t":120,"z":65.3,"c":64.4,"a":57.6},{"t":130,"z":65.5,"c":64.6,"a":57.5},{"t":140,"z":65.8,"c":64.9,"a":57.6},{"t":150,"z":66.2,"c":65.3,"a":58.4},
{"t":160,"z":66.8,"c":65.9,"a":59.8},{"t":170,"z":66.6,"c":65.7,"a":58.3},{"t":180,"z":66.2,"c":65.3,"a":56.9},{"t":190,"z":66.5,"c":65.6,"a":56.3},
{"t":200,"z":66.9,"c":66.0,"a":56.5},{"t":210,"z":67.1,"c":66.2,"a":56.0},{"t":220,"z":67.0,"c":66.1,"a":57.9},{"t":230,"z":66.9,"c":66.0,"a":58.5},
{"t":240,"z":66.6,"c":65.7,"a":57.2},{"t":250,"z":67.5,"c":66.6,"a":57.9},{"t":260,"z":67.6,"c":66.7,"a":58.2},{"t":270,"z":68.1,"c":67.2,"a":59.9},
{"t":280,"z":67.7,"c":66.8,"a":59.2},{"t":290,"z":67.2,"c":66.3,"a":57.1},{"t":300,"z":67.3,"c":66.4,"a":57.6},{"t":310,"z":67.5,"c":66.6,"a":57.8},
{"t":320,"z":67.7,"c":66.8,"a":57.7},{"t":330,"z":67.9,"c":67.0,"a":57.8},{"t":340,"z":68.0,"c":67.1,"a":57.6},{"t":350,"z":68.3,"c":67.4,"a":58.8},
{"t":360,"z":68.0,"c":67.1,"a":58.9},{"t":370,"z":67.8,"c":66.9,"a":59.0},{"t":380,"z":67.6,"c":66.7,"a":59.3},{"t":390,"z":67.2,"c":66.3,"a":58.8},
{"t":400,"z":67.3,"c":66.4,"a":57.5},{"t":410,"z":67.5,"c":66.6,"a":58.6},{"t":420,"z":67.9,"c":67.0,"a":59.4},{"t":430,"z":67.8,"c":66.9,"a":60.3},
{"t":440,"z":67.7,"c":66.8,"a":61.1},{"t":450,"z":68.1,"c":67.2,"a":61.1},{"t":460,"z":67.6,"c":66.7,"a":60.8},{"t":470,"z":67.1,"c":66.2,"a":60.2},
{"t":480,"z":66.7,"c":65.8,"a":59.6},{"t":490,"z":66.9,"c":65.9,"a":60.0},{"t":500,"z":66.6,"c":65.6,"a":58.7},{"t":510,"z":66.5,"c":65.5,"a":59.2},
{"t":520,"z":66.3,"c":65.3,"a":59.3},{"t":530,"z":66.5,"c":65.5,"a":59.4},{"t":540,"z":66.6,"c":65.6,"a":59.2},{"t":550,"z":66.0,"c":65.0,"a":59.4},
{"t":560,"z":65.9,"c":64.9,"a":59.5},{"t":570,"z":66.1,"c":65.1,"a":59.7},{"t":580,"z":66.1,"c":65.1,"a":59.9},{"t":590,"z":66.0,"c":65.0,"a":59.7},
{"t":600,"z":66.1,"c":65.1,"a":59.4},{"t":610,"z":66.7,"c":65.7,"a":61.3},{"t":620,"z":65.8,"c":64.8,"a":59.0},{"t":630,"z":65.8,"c":64.8,"a":58.6},
{"t":640,"z":65.7,"c":64.7,"a":58.7},{"t":650,"z":65.4,"c":64.4,"a":59.0},{"t":660,"z":65.1,"c":64.1,"a":59.0},{"t":670,"z":65.0,"c":64.0,"a":58.2},
{"t":680,"z":65.3,"c":64.3,"a":58.3},{"t":690,"z":65.5,"c":64.5,"a":59.0},{"t":700,"z":65.4,"c":64.4,"a":58.9},{"t":710,"z":65.7,"c":64.7,"a":59.3},
{"t":720,"z":65.9,"c":64.9,"a":59.7},{"t":730,"z":65.6,"c":64.6,"a":59.4},{"t":740,"z":65.2,"c":64.2,"a":59.0},{"t":750,"z":65.3,"c":64.3,"a":58.6},
{"t":760,"z":65.2,"c":64.2,"a":58.9},{"t":770,"z":65.5,"c":64.5,"a":59.3},{"t":780,"z":65.7,"c":64.7,"a":59.0},{"t":790,"z":66.3,"c":65.3,"a":58.6},
{"t":800,"z":65.5,"c":64.5,"a":58.0},{"t":810,"z":65.4,"c":64.4,"a":59.3},{"t":820,"z":66.0,"c":65.0,"a":57.8},{"t":830,"z":65.3,"c":64.3,"a":57.9},
{"t":840,"z":64.5,"c":63.5,"a":56.8},{"t":850,"z":65.2,"c":64.2,"a":58.6},{"t":860,"z":65.5,"c":64.5,"a":59.0},{"t":870,"z":65.5,"c":64.5,"a":59.2},
{"t":880,"z":65.7,"c":64.7,"a":59.4},{"t":890,"z":64.8,"c":63.8,"a":58.4},{"t":900,"z":63.4,"c":62.4,"a":57.3},{"t":910,"z":64.6,"c":63.6,"a":58.5},
{"t":920,"z":65.4,"c":64.4,"a":59.8},{"t":930,"z":64.5,"c":63.5,"a":59.4},{"t":940,"z":65.7,"c":64.7,"a":59.5},{"t":950,"z":65.0,"c":64.0,"a":58.8},
{"t":960,"z":64.5,"c":63.5,"a":58.2},{"t":970,"z":64.8,"c":63.8,"a":59.2},{"t":980,"z":64.4,"c":63.4,"a":57.9},{"t":990,"z":64.5,"c":63.5,"a":59.3},
{"t":1000,"z":66.0,"c":65.0,"a":59.9},{"t":1010,"z":65.3,"c":64.3,"a":59.6},{"t":1020,"z":64.8,"c":63.8,"a":58.9},{"t":1030,"z":64.5,"c":63.5,"a":58.5},
{"t":1040,"z":64.2,"c":63.2,"a":58.1},{"t":1050,"z":64.1,"c":63.1,"a":57.9},{"t":1060,"z":64.4,"c":63.4,"a":58.3},{"t":1070,"z":65.2,"c":64.2,"a":58.7},
{"t":1080,"z":65.9,"c":64.9,"a":58.8},{"t":1090,"z":65.2,"c":64.2,"a":58.4},{"t":1100,"z":64.1,"c":63.1,"a":57.9},{"t":1110,"z":64.3,"c":63.3,"a":58.0},
{"t":1120,"z":64.5,"c":63.5,"a":58.3},{"t":1130,"z":64.8,"c":63.8,"a":58.5},{"t":1140,"z":65.2,"c":64.2,"a":58.7},{"t":1150,"z":65.5,"c":64.5,"a":58.8},
{"t":1160,"z":64.7,"c":63.7,"a":58.2},{"t":1170,"z":64.5,"c":63.6,"a":58.5},{"t":1180,"z":64.5,"c":63.7,"a":58.7},{"t":1190,"z":64.6,"c":63.8,"a":58.9},
{"t":1200,"z":64.5,"c":63.8,"a":59.1},{"t":1210,"z":64.5,"c":63.8,"a":59.1},{"t":1220,"z":65.4,"c":64.5,"a":59.2},{"t":1230,"z":65.5,"c":64.6,"a":59.1},
{"t":1240,"z":65.5,"c":64.7,"a":59.1},{"t":1250,"z":66.2,"c":65.2,"a":59.3},{"t":1260,"z":66.9,"c":65.6,"a":59.4},{"t":1270,"z":67.6,"c":65.9,"a":59.5},
{"t":1280,"z":66.6,"c":65.4,"a":59.2},{"t":1290,"z":67.3,"c":66.0,"a":59.0},{"t":1300,"z":67.4,"c":66.1,"a":59.2},{"t":1310,"z":67.3,"c":66.1,"a":59.3},
{"t":1320,"z":67.4,"c":66.2,"a":59.4},{"t":1330,"z":67.9,"c":66.3,"a":59.0},{"t":1340,"z":68.5,"c":66.5,"a":58.6},{"t":1350,"z":67.9,"c":66.4,"a":58.6},
{"t":1360,"z":67.7,"c":66.5,"a":58.6},{"t":1370,"z":67.9,"c":66.6,"a":58.7},{"t":1380,"z":69.3,"c":66.9,"a":58.9},{"t":1390,"z":69.0,"c":66.9,"a":58.9},
{"t":1400,"z":69.3,"c":67.0,"a":59.0},{"t":1410,"z":68.3,"c":66.6,"a":59.5},{"t":1420,"z":68.8,"c":66.7,"a":59.8},{"t":1430,"z":67.9,"c":66.4,"a":59.3},
{"t":1435,"z":68.3,"c":66.4,"a":58.6}
  ]},
  "layer": [
    {
      "data": {"values": [
{"t":0,"lo":64.5,"hi":67.4},{"t":10,"lo":64.4,"hi":67.0},{"t":20,"lo":64.2,"hi":67.2},{"t":30,"lo":64.1,"hi":66.9},
{"t":40,"lo":64.1,"hi":67.1},{"t":50,"lo":64.0,"hi":66.8},{"t":60,"lo":63.9,"hi":66.9},{"t":70,"lo":63.8,"hi":66.6},
{"t":80,"lo":63.7,"hi":66.7},{"t":90,"lo":63.8,"hi":66.5},{"t":100,"lo":63.9,"hi":66.8},{"t":110,"lo":64.0,"hi":66.7},
{"t":120,"lo":64.0,"hi":67.0},{"t":130,"lo":64.2,"hi":67.0},{"t":140,"lo":64.5,"hi":67.3},{"t":150,"lo":64.9,"hi":67.6},
{"t":160,"lo":65.5,"hi":68.2},{"t":170,"lo":65.3,"hi":68.0},{"t":180,"lo":64.9,"hi":67.6},{"t":190,"lo":65.2,"hi":67.9},
{"t":200,"lo":65.6,"hi":68.3},{"t":210,"lo":65.8,"hi":68.5},{"t":220,"lo":65.7,"hi":68.4},{"t":230,"lo":65.6,"hi":68.3},
{"t":240,"lo":65.3,"hi":68.1},{"t":250,"lo":66.2,"hi":68.9},{"t":260,"lo":66.3,"hi":69.0},{"t":270,"lo":66.8,"hi":69.5},
{"t":280,"lo":66.4,"hi":69.2},{"t":290,"lo":65.9,"hi":68.7},{"t":300,"lo":66.0,"hi":68.8},{"t":310,"lo":66.2,"hi":69.0},
{"t":320,"lo":66.4,"hi":69.2},{"t":330,"lo":66.6,"hi":69.4},{"t":340,"lo":66.7,"hi":69.5},{"t":350,"lo":67.0,"hi":69.7},
{"t":360,"lo":66.7,"hi":69.5},{"t":370,"lo":66.5,"hi":69.3},{"t":380,"lo":66.3,"hi":69.1},{"t":390,"lo":65.9,"hi":68.7},
{"t":400,"lo":66.0,"hi":68.8},{"t":410,"lo":66.2,"hi":69.0},{"t":420,"lo":66.6,"hi":69.4},{"t":430,"lo":66.5,"hi":69.3},
{"t":440,"lo":66.4,"hi":69.2},{"t":450,"lo":66.8,"hi":69.6},{"t":460,"lo":66.3,"hi":69.1},{"t":470,"lo":65.8,"hi":68.6},
{"t":480,"lo":65.4,"hi":68.2},{"t":490,"lo":65.5,"hi":68.3},{"t":500,"lo":65.2,"hi":68.0},{"t":510,"lo":65.1,"hi":67.9},
{"t":520,"lo":64.9,"hi":67.7},{"t":530,"lo":65.1,"hi":67.9},{"t":540,"lo":65.2,"hi":68.0},{"t":550,"lo":64.6,"hi":67.5},
{"t":560,"lo":64.5,"hi":67.4},{"t":570,"lo":64.7,"hi":67.6},{"t":580,"lo":64.7,"hi":67.6},{"t":590,"lo":64.6,"hi":67.5},
{"t":600,"lo":64.7,"hi":67.6},{"t":610,"lo":65.2,"hi":68.2},{"t":620,"lo":64.4,"hi":67.3},{"t":630,"lo":64.4,"hi":67.3},
{"t":640,"lo":64.3,"hi":67.2},{"t":650,"lo":64.0,"hi":66.9},{"t":660,"lo":63.7,"hi":66.6},{"t":670,"lo":63.6,"hi":66.5},
{"t":680,"lo":63.9,"hi":66.8},{"t":690,"lo":64.1,"hi":67.0},{"t":700,"lo":64.0,"hi":66.9},{"t":710,"lo":64.3,"hi":67.2},
{"t":720,"lo":64.5,"hi":67.4},{"t":730,"lo":64.2,"hi":67.1},{"t":740,"lo":63.8,"hi":66.7},{"t":750,"lo":63.9,"hi":66.8},
{"t":760,"lo":63.8,"hi":66.7},{"t":770,"lo":64.1,"hi":67.0},{"t":780,"lo":64.3,"hi":67.2},{"t":790,"lo":64.9,"hi":67.8},
{"t":800,"lo":64.1,"hi":67.0},{"t":810,"lo":64.0,"hi":66.9},{"t":820,"lo":64.6,"hi":67.5},{"t":830,"lo":63.9,"hi":66.8},
{"t":840,"lo":63.1,"hi":66.0},{"t":850,"lo":63.8,"hi":66.7},{"t":860,"lo":64.1,"hi":67.0},{"t":870,"lo":64.1,"hi":67.0},
{"t":880,"lo":64.3,"hi":67.2},{"t":890,"lo":63.4,"hi":66.3},{"t":900,"lo":62.0,"hi":64.9},{"t":910,"lo":63.2,"hi":66.1},
{"t":920,"lo":64.0,"hi":66.9},{"t":930,"lo":63.1,"hi":66.0},{"t":940,"lo":64.3,"hi":67.2},{"t":950,"lo":63.6,"hi":66.5},
{"t":960,"lo":63.1,"hi":66.0},{"t":970,"lo":63.4,"hi":66.3},{"t":980,"lo":63.0,"hi":65.9},{"t":990,"lo":63.1,"hi":66.0},
{"t":1000,"lo":64.6,"hi":67.5},{"t":1010,"lo":63.9,"hi":66.8},{"t":1020,"lo":63.4,"hi":66.3},{"t":1030,"lo":63.1,"hi":66.0},
{"t":1040,"lo":62.8,"hi":65.7},{"t":1050,"lo":62.7,"hi":65.6},{"t":1060,"lo":63.0,"hi":65.9},{"t":1070,"lo":63.8,"hi":66.7},
{"t":1080,"lo":64.5,"hi":67.4},{"t":1090,"lo":63.8,"hi":66.7},{"t":1100,"lo":62.7,"hi":65.6},{"t":1110,"lo":62.9,"hi":65.8},
{"t":1120,"lo":63.1,"hi":66.0},{"t":1130,"lo":63.4,"hi":66.3},{"t":1140,"lo":63.8,"hi":66.7},{"t":1150,"lo":64.1,"hi":67.0},
{"t":1160,"lo":63.3,"hi":66.2},{"t":1170,"lo":63.2,"hi":66.0},{"t":1180,"lo":63.3,"hi":66.0},{"t":1190,"lo":63.4,"hi":66.1},
{"t":1200,"lo":63.4,"hi":66.0},{"t":1210,"lo":63.4,"hi":66.1},{"t":1220,"lo":64.1,"hi":67.3},{"t":1230,"lo":64.2,"hi":68.0},
{"t":1240,"lo":64.3,"hi":68.6},{"t":1250,"lo":64.7,"hi":69.3},{"t":1260,"lo":65.1,"hi":70.0},{"t":1270,"lo":65.4,"hi":71.0},
{"t":1280,"lo":64.9,"hi":70.6},{"t":1290,"lo":65.4,"hi":71.2},{"t":1300,"lo":65.5,"hi":71.0},{"t":1310,"lo":65.5,"hi":71.4},
{"t":1320,"lo":65.6,"hi":71.3},{"t":1330,"lo":65.7,"hi":71.8},{"t":1340,"lo":65.9,"hi":72.3},{"t":1350,"lo":65.8,"hi":72.0},
{"t":1360,"lo":65.9,"hi":71.9},{"t":1370,"lo":66.0,"hi":72.2},{"t":1380,"lo":66.3,"hi":72.8},{"t":1390,"lo":66.3,"hi":72.5},
{"t":1400,"lo":66.4,"hi":72.6},{"t":1410,"lo":66.0,"hi":72.3},{"t":1420,"lo":66.1,"hi":72.4},{"t":1430,"lo":65.8,"hi":72.0},
{"t":1435,"lo":65.8,"hi":71.8},
{"t":3,"lo":64.5,"hi":67.2},{"t":4,"lo":64.5,"hi":69.0},{"t":5,"lo":64.5,"hi":67.2},
{"t":13,"lo":64.3,"hi":67.1},{"t":14,"lo":64.3,"hi":68.3},{"t":15,"lo":64.3,"hi":67.1},
{"t":25,"lo":64.1,"hi":67.0},{"t":26,"lo":64.1,"hi":69.6},{"t":27,"lo":64.1,"hi":67.0},
{"t":46,"lo":64.0,"hi":66.9},{"t":47,"lo":64.0,"hi":68.8},{"t":48,"lo":64.0,"hi":66.9},
{"t":63,"lo":63.9,"hi":66.8},{"t":64,"lo":63.9,"hi":68.5},{"t":65,"lo":63.9,"hi":66.8},
{"t":95,"lo":63.9,"hi":66.7},{"t":96,"lo":63.9,"hi":68.9},{"t":97,"lo":63.9,"hi":66.7},
{"t":116,"lo":64.0,"hi":66.9},{"t":117,"lo":64.0,"hi":68.4},{"t":118,"lo":64.0,"hi":66.9},
{"t":133,"lo":64.3,"hi":67.1},{"t":134,"lo":64.3,"hi":69.3},{"t":135,"lo":64.3,"hi":67.1},
{"t":142,"lo":64.6,"hi":67.4},{"t":143,"lo":64.6,"hi":69.1},{"t":144,"lo":64.6,"hi":67.4},
{"t":162,"lo":65.4,"hi":68.1},{"t":163,"lo":65.4,"hi":70.0},{"t":164,"lo":65.4,"hi":68.1},
{"t":195,"lo":65.4,"hi":68.2},{"t":196,"lo":65.4,"hi":69.8},{"t":197,"lo":65.4,"hi":68.2},
{"t":221,"lo":65.7,"hi":68.4},{"t":222,"lo":65.7,"hi":70.0},{"t":223,"lo":65.7,"hi":68.4},
{"t":251,"lo":66.2,"hi":68.9},{"t":252,"lo":66.2,"hi":70.2},{"t":253,"lo":66.2,"hi":68.9},
{"t":267,"lo":66.7,"hi":69.4},{"t":268,"lo":66.7,"hi":70.6},{"t":269,"lo":66.7,"hi":69.4},
{"t":291,"lo":65.9,"hi":68.7},{"t":292,"lo":65.9,"hi":70.4},{"t":293,"lo":65.9,"hi":68.7},
{"t":313,"lo":66.3,"hi":69.1},{"t":314,"lo":66.3,"hi":70.8},{"t":315,"lo":66.3,"hi":69.1},
{"t":334,"lo":66.6,"hi":69.4},{"t":335,"lo":66.6,"hi":70.6},{"t":336,"lo":66.6,"hi":69.4},
{"t":355,"lo":66.8,"hi":69.6},{"t":356,"lo":66.8,"hi":71.2},{"t":357,"lo":66.8,"hi":69.6},
{"t":371,"lo":66.5,"hi":69.3},{"t":372,"lo":66.5,"hi":73.5},{"t":373,"lo":66.5,"hi":69.3},
{"t":385,"lo":66.1,"hi":69.0},{"t":386,"lo":66.1,"hi":71.5},{"t":387,"lo":66.1,"hi":69.0},
{"t":406,"lo":66.1,"hi":68.9},{"t":407,"lo":66.1,"hi":70.5},{"t":408,"lo":66.1,"hi":68.9},
{"t":421,"lo":66.6,"hi":69.4},{"t":422,"lo":66.6,"hi":73.6},{"t":423,"lo":66.6,"hi":69.4},
{"t":435,"lo":66.5,"hi":69.3},{"t":436,"lo":66.5,"hi":71.4},{"t":437,"lo":66.5,"hi":69.3},
{"t":451,"lo":66.8,"hi":69.6},{"t":452,"lo":66.8,"hi":71.7},{"t":453,"lo":66.8,"hi":69.6},
{"t":465,"lo":66.1,"hi":68.9},{"t":466,"lo":66.1,"hi":70.8},{"t":467,"lo":66.1,"hi":68.9},
{"t":496,"lo":65.3,"hi":68.1},{"t":497,"lo":65.3,"hi":70.3},{"t":498,"lo":65.3,"hi":68.1},
{"t":525,"lo":65.0,"hi":67.8},{"t":526,"lo":65.0,"hi":71.6},{"t":527,"lo":65.0,"hi":67.8},
{"t":535,"lo":65.1,"hi":67.9},{"t":536,"lo":65.1,"hi":72.0},{"t":537,"lo":65.1,"hi":67.9},
{"t":555,"lo":64.6,"hi":67.5},{"t":556,"lo":64.6,"hi":69.5},{"t":557,"lo":64.6,"hi":67.5},
{"t":575,"lo":64.7,"hi":67.6},{"t":576,"lo":64.7,"hi":70.2},{"t":577,"lo":64.7,"hi":67.6},
{"t":593,"lo":64.6,"hi":67.5},{"t":594,"lo":64.6,"hi":69.8},{"t":595,"lo":64.6,"hi":67.5},
{"t":605,"lo":65.0,"hi":67.8},{"t":606,"lo":65.0,"hi":78.6},{"t":607,"lo":65.0,"hi":67.8},
{"t":625,"lo":64.4,"hi":67.3},{"t":626,"lo":64.4,"hi":74.2},{"t":627,"lo":64.4,"hi":67.3},
{"t":645,"lo":64.1,"hi":67.0},{"t":646,"lo":64.1,"hi":70.0},{"t":647,"lo":64.1,"hi":67.0},
{"t":663,"lo":63.7,"hi":66.6},{"t":664,"lo":63.7,"hi":70.4},{"t":665,"lo":63.7,"hi":66.6},
{"t":683,"lo":64.0,"hi":66.9},{"t":684,"lo":64.0,"hi":69.7},{"t":685,"lo":64.0,"hi":66.9},
{"t":702,"lo":64.1,"hi":67.0},{"t":703,"lo":64.1,"hi":70.1},{"t":704,"lo":64.1,"hi":67.0},
{"t":724,"lo":64.3,"hi":67.2},{"t":725,"lo":64.3,"hi":70.6},{"t":726,"lo":64.3,"hi":67.2},
{"t":743,"lo":63.8,"hi":66.7},{"t":744,"lo":63.8,"hi":69.9},{"t":745,"lo":63.8,"hi":66.7},
{"t":765,"lo":64.0,"hi":66.9},{"t":766,"lo":64.0,"hi":70.3},{"t":767,"lo":64.0,"hi":66.9},
{"t":791,"lo":64.7,"hi":67.6},{"t":792,"lo":64.7,"hi":73.3},{"t":793,"lo":64.7,"hi":67.6},
{"t":801,"lo":64.1,"hi":67.0},{"t":802,"lo":64.1,"hi":72.1},{"t":803,"lo":64.1,"hi":67.0},
{"t":815,"lo":64.4,"hi":67.3},{"t":816,"lo":64.4,"hi":70.3},{"t":817,"lo":64.4,"hi":67.3},
{"t":846,"lo":63.6,"hi":66.5},{"t":847,"lo":63.6,"hi":70.5},{"t":848,"lo":63.6,"hi":66.5},
{"t":855,"lo":64.0,"hi":66.9},{"t":856,"lo":64.0,"hi":69.8},{"t":857,"lo":64.0,"hi":66.9},
{"t":873,"lo":64.2,"hi":67.1},{"t":874,"lo":64.2,"hi":70.7},{"t":875,"lo":64.2,"hi":67.1},
{"t":883,"lo":64.0,"hi":66.9},{"t":884,"lo":64.0,"hi":69.9},{"t":885,"lo":64.0,"hi":66.9},
{"t":918,"lo":63.9,"hi":66.8},{"t":919,"lo":63.9,"hi":74.4},{"t":920.5,"lo":63.9,"hi":66.8},
{"t":934,"lo":63.7,"hi":66.6},{"t":935,"lo":63.7,"hi":71.1},{"t":936,"lo":63.7,"hi":66.6},
{"t":943,"lo":64.1,"hi":67.0},{"t":944,"lo":64.1,"hi":71.6},{"t":945,"lo":64.1,"hi":67.0},
{"t":955,"lo":63.3,"hi":66.2},{"t":956,"lo":63.3,"hi":70.3},{"t":957,"lo":63.3,"hi":66.2},
{"t":967,"lo":63.3,"hi":66.2},{"t":968,"lo":63.3,"hi":73.2},{"t":969,"lo":63.3,"hi":66.2},
{"t":985,"lo":63.1,"hi":66.0},{"t":986,"lo":63.1,"hi":70.8},{"t":987,"lo":63.1,"hi":66.0},
{"t":995,"lo":64.0,"hi":67.0},{"t":996,"lo":64.0,"hi":70.2},{"t":997,"lo":64.0,"hi":67.0},
{"t":1013,"lo":63.7,"hi":66.6},{"t":1014,"lo":63.7,"hi":69.6},{"t":1015,"lo":63.7,"hi":66.6},
{"t":1026,"lo":63.2,"hi":66.1},{"t":1027,"lo":63.2,"hi":70.2},{"t":1028,"lo":63.2,"hi":66.1},
{"t":1042,"lo":62.8,"hi":65.7},{"t":1043,"lo":62.8,"hi":69.5},{"t":1044,"lo":62.8,"hi":65.7},
{"t":1063,"lo":63.3,"hi":66.2},{"t":1064,"lo":63.3,"hi":69.6},{"t":1065,"lo":63.3,"hi":66.2},
{"t":1075,"lo":64.2,"hi":67.1},{"t":1076,"lo":64.2,"hi":70.6},{"t":1077,"lo":64.2,"hi":67.1},
{"t":1083,"lo":64.2,"hi":67.1},{"t":1084,"lo":64.2,"hi":70.0},{"t":1085,"lo":64.2,"hi":67.1},
{"t":1113,"lo":63.0,"hi":65.9},{"t":1114,"lo":63.0,"hi":69.0},{"t":1115,"lo":63.0,"hi":65.9},
{"t":1133,"lo":63.6,"hi":66.5},{"t":1134,"lo":63.6,"hi":69.4},{"t":1135,"lo":63.6,"hi":66.5},
{"t":1145,"lo":64.0,"hi":66.9},{"t":1146,"lo":64.0,"hi":70.5},{"t":1147,"lo":64.0,"hi":66.9},
{"t":1165,"lo":63.2,"hi":66.1},{"t":1166,"lo":63.2,"hi":68.8},{"t":1167,"lo":63.2,"hi":66.1},
{"t":1195,"lo":63.4,"hi":66.0},{"t":1196,"lo":63.4,"hi":69.0},{"t":1197,"lo":63.4,"hi":66.0},
{"t":1215,"lo":63.8,"hi":66.8},{"t":1216,"lo":63.8,"hi":70.4},{"t":1217,"lo":63.8,"hi":66.8},
{"t":1223,"lo":64.1,"hi":67.6},{"t":1224,"lo":64.1,"hi":71.0},{"t":1225,"lo":64.1,"hi":67.6},
{"t":1235,"lo":64.3,"hi":68.4},{"t":1236,"lo":64.3,"hi":72.4},{"t":1237,"lo":64.3,"hi":68.4},
{"t":1243,"lo":64.5,"hi":68.9},{"t":1244,"lo":64.5,"hi":71.6},{"t":1245,"lo":64.5,"hi":68.9},
{"t":1255,"lo":64.9,"hi":69.7},{"t":1256,"lo":64.9,"hi":73.3},{"t":1257,"lo":64.9,"hi":69.7},
{"t":1265,"lo":65.3,"hi":70.6},{"t":1266,"lo":65.3,"hi":75.8},{"t":1267,"lo":65.3,"hi":70.6},
{"t":1273,"lo":65.2,"hi":70.8},{"t":1274,"lo":65.2,"hi":74.2},{"t":1275,"lo":65.2,"hi":70.8},
{"t":1285,"lo":65.2,"hi":71.0},{"t":1286,"lo":65.2,"hi":75.0},{"t":1287,"lo":65.2,"hi":71.0},
{"t":1295,"lo":65.5,"hi":71.1},{"t":1296,"lo":65.5,"hi":73.6},{"t":1297,"lo":65.5,"hi":71.1},
{"t":1305,"lo":65.5,"hi":71.2},{"t":1306,"lo":65.5,"hi":74.0},{"t":1307,"lo":65.5,"hi":71.2},
{"t":1313,"lo":65.5,"hi":71.4},{"t":1314,"lo":65.5,"hi":75.4},{"t":1315,"lo":65.5,"hi":71.4},
{"t":1325,"lo":65.7,"hi":71.6},{"t":1326,"lo":65.7,"hi":74.6},{"t":1327,"lo":65.7,"hi":71.6},
{"t":1333,"lo":65.8,"hi":72.0},{"t":1334,"lo":65.8,"hi":76.4},{"t":1335,"lo":65.8,"hi":72.0},
{"t":1341,"lo":65.9,"hi":72.2},{"t":1342,"lo":65.9,"hi":77.8},{"t":1343,"lo":65.9,"hi":72.2},
{"t":1345,"lo":65.8,"hi":72.1},{"t":1346,"lo":65.8,"hi":77.3},{"t":1347,"lo":65.8,"hi":72.1},
{"t":1353,"lo":65.8,"hi":72.0},{"t":1354,"lo":65.8,"hi":75.8},{"t":1355,"lo":65.8,"hi":72.0},
{"t":1363,"lo":65.9,"hi":72.0},{"t":1364,"lo":65.9,"hi":74.9},{"t":1365,"lo":65.9,"hi":72.0},
{"t":1373,"lo":66.1,"hi":72.5},{"t":1374,"lo":66.1,"hi":75.5},{"t":1375,"lo":66.1,"hi":72.5},
{"t":1382,"lo":66.3,"hi":72.7},{"t":1383,"lo":66.3,"hi":75.0},{"t":1384,"lo":66.3,"hi":72.7},
{"t":1393,"lo":66.3,"hi":72.5},{"t":1394,"lo":66.3,"hi":76.0},{"t":1395,"lo":66.3,"hi":72.5},
{"t":1403,"lo":66.3,"hi":72.5},{"t":1404,"lo":66.3,"hi":75.4},{"t":1405,"lo":66.3,"hi":72.5},
{"t":1415,"lo":66.1,"hi":72.4},{"t":1416,"lo":66.1,"hi":74.2},{"t":1417,"lo":66.1,"hi":72.4},
{"t":1423,"lo":66.0,"hi":72.2},{"t":1424,"lo":66.0,"hi":74.8},{"t":1425,"lo":66.0,"hi":72.2},
{"t":1431,"lo":65.8,"hi":71.9},{"t":1432,"lo":65.8,"hi":73.9},{"t":1433,"lo":65.8,"hi":71.9}
      ]},
      "mark": {"type": "area", "color": "#f08080", "opacity": 0.33},
      "encoding": {
        "x": {"field": "t", "type": "quantitative", "scale": {"domain": [0, 1439.5], "nice": false, "zero": false},
          "axis": {"title": "time", "values": [0,30,60,90,120,150,180,210,240,270,300,330,360,390,420,450,480,510,540,570,600,630,660,690,720,750,780,810,840,870,900,930,960,990,1020,1050,1080,1110,1140,1170,1200,1230,1260,1290,1320,1350,1380,1410],
            "labelExpr": "datum.value % 120 === 0 ? ((floor(datum.value/60) < 10 ? '0' : '') + floor(datum.value/60) + ':00:00') : ''",
            "tickSize": {"condition": {"test": "datum.value % 120 !== 0", "value": 3.5}, "value": 6},
            "labelPadding": 4, "titlePadding": 5, "grid": true,
            "gridColor": {"condition": {"test": "datum.value % 120 !== 0", "value": "#c4c0b4"}, "value": "#acacac"},
            "gridWidth": {"condition": {"test": "datum.value % 120 !== 0", "value": 0.8}, "value": 1.5},
            "gridDash": {"condition": {"test": "datum.value % 120 !== 0", "value": [3, 2]}, "value": []}}},
        "y": {"field": "lo", "type": "quantitative", "scale": {"domain": [24, 108], "nice": false, "zero": false},
          "axis": {"orient": "left", "title": "dB SPL", "values": [24,27,30,33,36,39,42,45,48,51,54,57,60,63,66,69,72,75,78,81,84,87,90,93,96,99,102,105,108],
            "labelExpr": "datum.value % 12 === 0 ? datum.label : ''",
            "tickSize": {"condition": {"test": "datum.value % 12 !== 0", "value": 3.5}, "value": 6},
            "labelPadding": 6, "titlePadding": 7, "grid": true,
            "gridColor": {"condition": {"test": "datum.value % 12 !== 0", "value": "#c4c0b4"}, "value": "#acacac"},
            "gridWidth": {"condition": {"test": "datum.value % 12 !== 0", "value": 0.8}, "value": 1.5},
            "gridDash": {"condition": {"test": "datum.value % 12 !== 0", "value": [3, 2]}, "value": []}}},
        "y2": {"field": "hi"}
      }
    },
    {
      "transform": [{"fold": ["z", "c", "a"], "as": ["s", "v"]}],
      "mark": {"type": "line", "strokeWidth": 2},
      "encoding": {
        "x": {"field": "t", "type": "quantitative", "scale": {"domain": [0, 1439.5], "nice": false, "zero": false}, "axis": {"title": "time"}},
        "y": {"field": "v", "type": "quantitative", "scale": {"domain": [24, 108], "nice": false, "zero": false},
          "axis": {"orient": "right", "title": "dB SPL", "values": [24,27,30,33,36,39,42,45,48,51,54,57,60,63,66,69,72,75,78,81,84,87,90,93,96,99,102,105,108],
            "labelExpr": "datum.value % 12 === 0 ? datum.label : ''",
            "tickSize": {"condition": {"test": "datum.value % 12 !== 0", "value": 3.5}, "value": 6},
            "labelPadding": 6, "titlePadding": 7, "grid": false}},
        "color": {"field": "s", "type": "nominal",
          "scale": {"domain": ["z", "c", "a"], "range": ["#dc143c", "#ff8c00", "#ffd700"]},
          "legend": {"title": null, "symbolType": "M-1.8,0H1.8", "symbolStrokeWidth": 3.5, "symbolSize": 144, "labelOffset": 12, "padding": 5,
            "labelExpr": "datum.value === 'z' ? 'dB(Z)' : datum.value === 'c' ? 'dB(C)' : 'dB(A)'"}}
      }
    }
  ],
  "resolve": {"axis": {"y": "independent"}}
}
]
}
